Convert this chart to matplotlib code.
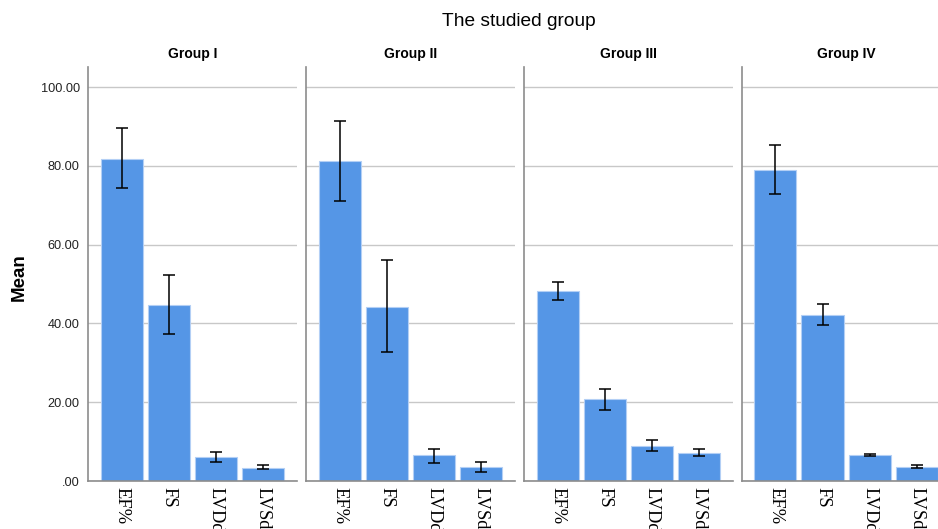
import matplotlib
matplotlib.use("Agg")
import matplotlib.pyplot as plt
import numpy as np

# values
groups = ["Group I", "Group II", "Group III", "Group IV"]
measures = ["EF%", "FS", "LVDd", "LVSd"]

means = [
    [81.7, 44.8, 6.1, 3.4],
    [81.2, 44.3, 6.5, 3.6],
    [48.3, 20.7, 9.0, 7.1],
    [78.9, 42.1, 6.5, 3.6],
]
err_low = [
    [74.3, 37.4, 4.8, 3.0],
    [71.2, 32.8, 4.6, 2.3],
    [46.0, 18.1, 7.7, 6.4],
    [72.8, 39.5, 6.3, 3.2],
]
err_high = [
    [89.6, 52.4, 7.4, 4.1],
    [91.3, 56.0, 8.1, 4.8],
    [50.5, 23.4, 10.4, 8.1],
    [85.2, 44.9, 6.9, 4.1],
]
yticks = [0, 20, 40, 60, 80, 100]
ytick_labels = [".00", "20.00", "40.00", "60.00", "80.00", "100.00"]

bar_color = "#5596e6"
W, H = 938, 529

fig = plt.figure(figsize=(W / 100, H / 100), dpi=100)
fig.patch.set_facecolor("white")

x = np.arange(len(measures))
for i, g in enumerate(groups):
    left = (88 + i * 217.9) / W
    ax = fig.add_axes([left, (H - 481) / H, 208.7 / W, (481 - 66.7) / H])
    m = np.array(means[i])
    lo = m - np.array(err_low[i])
    hi = np.array(err_high[i]) - m
    ax.bar(x, m, width=0.894, color=bar_color, edgecolor="#b3cff5",
           linewidth=0.8, zorder=2)
    ax.errorbar(x, m, yerr=[lo, hi], fmt="none", ecolor="black",
                elinewidth=1.1, capsize=4.5, capthick=1.1, zorder=3)
    ax.set_xlim(-0.717, 3.717)
    ax.set_ylim(0, 105.2)
    ax.set_yticks(yticks)
    ax.grid(axis="y", color="#c8c8c8", linewidth=1.0, zorder=0)
    ax.set_axisbelow(True)
    for s in ["top", "right"]:
        ax.spines[s].set_visible(False)
    for s in ["left", "bottom"]:
        ax.spines[s].set_color("#8c8c8c")
        ax.spines[s].set_linewidth(1.2)
    ax.set_xticks(x)
    ax.set_xticklabels(measures, rotation=-90, family="Liberation Serif",
                       fontsize=13.3, va="top", ha="center")
    ax.tick_params(axis="x", length=0, pad=4)
    ax.tick_params(axis="y", length=0, pad=6)
    if i == 0:
        ax.set_yticklabels(ytick_labels, fontsize=9.2, color="#222222",
                           family="Liberation Sans")
    else:
        ax.set_yticklabels([])
    ax.set_title(g, fontsize=10, fontweight="bold", pad=6,
                 family="Liberation Sans")

fig.text(519 / W, 1 - 21 / H, "The studied group", ha="center", va="center",
         fontsize=13.8, family="Liberation Sans")
fig.text(19 / W, 1 - 277 / H, "Mean", rotation=90, ha="center", va="center",
         fontsize=13.5, fontweight="bold", family="Liberation Sans")

fig.savefig("out.png", dpi=100)
